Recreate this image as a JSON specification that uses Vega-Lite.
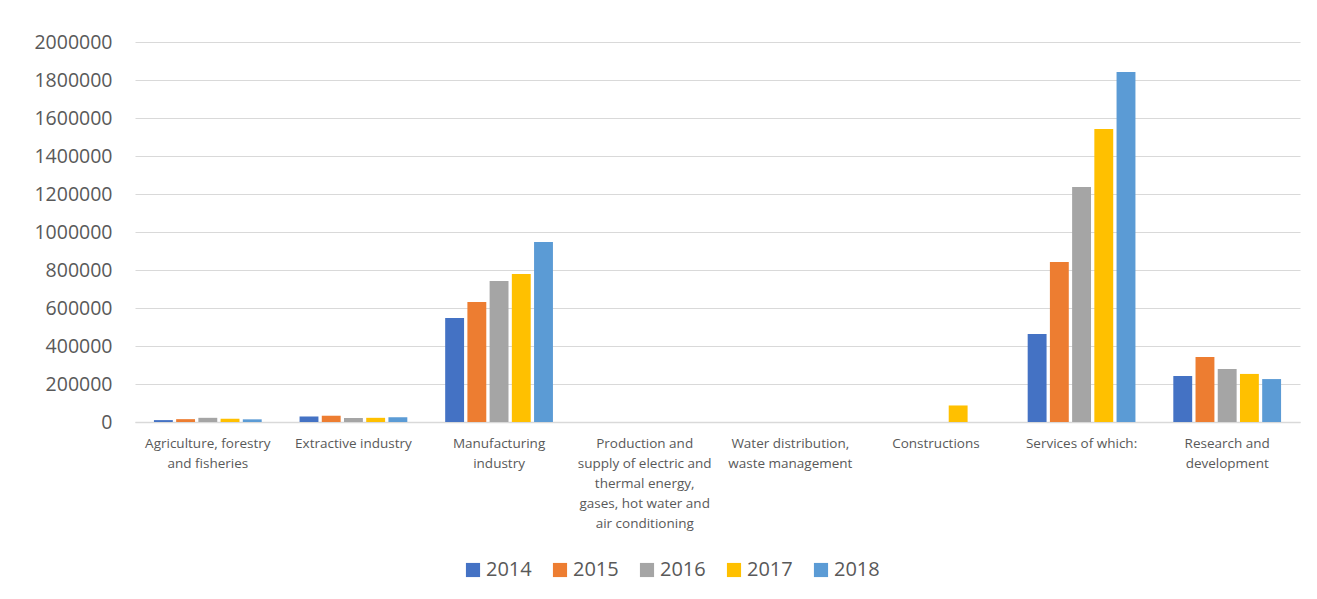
{
  "$schema": "https://vega.github.io/schema/vega-lite/v6.json",
  "width": 1165,
  "height": 380,
  "autosize": {"type": "none"},
  "padding": {"left": 135, "top": 42, "right": 17, "bottom": 177},
  "background": "white",
  "config": {
    "view": {"stroke": null},
    "font": "Open Sans",
    "axis": {"labelColor": "#595959", "titleColor": "#595959"}
  },
  "data": {
    "values": [
      {"sector": "Agriculture, forestry|and fisheries", "year": "2014", "value": 10000},
      {"sector": "Agriculture, forestry|and fisheries", "year": "2015", "value": 15000},
      {"sector": "Agriculture, forestry|and fisheries", "year": "2016", "value": 22000},
      {"sector": "Agriculture, forestry|and fisheries", "year": "2017", "value": 17000},
      {"sector": "Agriculture, forestry|and fisheries", "year": "2018", "value": 14000},
      {"sector": "Extractive industry", "year": "2014", "value": 29000},
      {"sector": "Extractive industry", "year": "2015", "value": 33000},
      {"sector": "Extractive industry", "year": "2016", "value": 21000},
      {"sector": "Extractive industry", "year": "2017", "value": 22000},
      {"sector": "Extractive industry", "year": "2018", "value": 25000},
      {"sector": "Manufacturing|industry", "year": "2014", "value": 547000},
      {"sector": "Manufacturing|industry", "year": "2015", "value": 632000},
      {"sector": "Manufacturing|industry", "year": "2016", "value": 742000},
      {"sector": "Manufacturing|industry", "year": "2017", "value": 779000},
      {"sector": "Manufacturing|industry", "year": "2018", "value": 947000},
      {"sector": "Production and|supply of electric and|thermal energy,|gases, hot water and|air conditioning", "year": "2014", "value": 0},
      {"sector": "Production and|supply of electric and|thermal energy,|gases, hot water and|air conditioning", "year": "2015", "value": 0},
      {"sector": "Production and|supply of electric and|thermal energy,|gases, hot water and|air conditioning", "year": "2016", "value": 0},
      {"sector": "Production and|supply of electric and|thermal energy,|gases, hot water and|air conditioning", "year": "2017", "value": 0},
      {"sector": "Production and|supply of electric and|thermal energy,|gases, hot water and|air conditioning", "year": "2018", "value": 0},
      {"sector": "Water distribution,|waste management", "year": "2014", "value": 0},
      {"sector": "Water distribution,|waste management", "year": "2015", "value": 0},
      {"sector": "Water distribution,|waste management", "year": "2016", "value": 0},
      {"sector": "Water distribution,|waste management", "year": "2017", "value": 0},
      {"sector": "Water distribution,|waste management", "year": "2018", "value": 0},
      {"sector": "Constructions", "year": "2014", "value": 0},
      {"sector": "Constructions", "year": "2015", "value": 0},
      {"sector": "Constructions", "year": "2016", "value": 0},
      {"sector": "Constructions", "year": "2017", "value": 87000},
      {"sector": "Constructions", "year": "2018", "value": 0},
      {"sector": "Services of which:", "year": "2014", "value": 463000},
      {"sector": "Services of which:", "year": "2015", "value": 842000},
      {"sector": "Services of which:", "year": "2016", "value": 1237000},
      {"sector": "Services of which:", "year": "2017", "value": 1542000},
      {"sector": "Services of which:", "year": "2018", "value": 1842000},
      {"sector": "Research and|development", "year": "2014", "value": 242000},
      {"sector": "Research and|development", "year": "2015", "value": 342000},
      {"sector": "Research and|development", "year": "2016", "value": 279000},
      {"sector": "Research and|development", "year": "2017", "value": 253000},
      {"sector": "Research and|development", "year": "2018", "value": 226000}
    ]
  },
  "mark": {"type": "bar"},
  "encoding": {
    "x": {
      "field": "sector",
      "type": "nominal",
      "sort": null,
      "scale": {"paddingInner": 0.26, "paddingOuter": 0.13},
      "axis": {
        "title": null,
        "labelAngle": 0,
        "labelExpr": "split(datum.label, '|')",
        "labelFontSize": 13.5,
        "labelLineHeight": 20,
        "labelPadding": 14,
        "labelLimit": 200,
        "ticks": false,
        "domainColor": "#D9D9D9",
        "domainWidth": 1.5,
        "grid": false
      }
    },
    "xOffset": {"field": "year", "type": "nominal", "scale": {"paddingInner": 0.15}},
    "y": {
      "field": "value",
      "type": "quantitative",
      "scale": {"domain": [0, 2000000], "nice": false},
      "axis": {
        "title": null,
        "values": [0, 200000, 400000, 600000, 800000, 1000000, 1200000, 1400000, 1600000, 1800000, 2000000],
        "format": "d",
        "labelFontSize": 19.5,
        "labelPadding": 23,
        "ticks": false,
        "domain": false,
        "gridColor": "#D9D9D9",
        "gridWidth": 1.2
      }
    },
    "color": {
      "field": "year",
      "type": "nominal",
      "scale": {
        "domain": ["2014", "2015", "2016", "2017", "2018"],
        "range": ["#4472C4", "#ED7D31", "#A5A5A5", "#FFC000", "#5B9BD5"]
      },
      "legend": {
        "title": null,
        "orient": "none",
        "direction": "horizontal",
        "legendX": 328,
        "legendY": 518,
        "symbolType": "square",
        "symbolSize": 200,
        "symbolStrokeWidth": 0,
        "labelFontSize": 20,
        "labelColor": "#595959",
        "labelOffset": 3,
        "columnPadding": 18
      }
    }
  }
}
